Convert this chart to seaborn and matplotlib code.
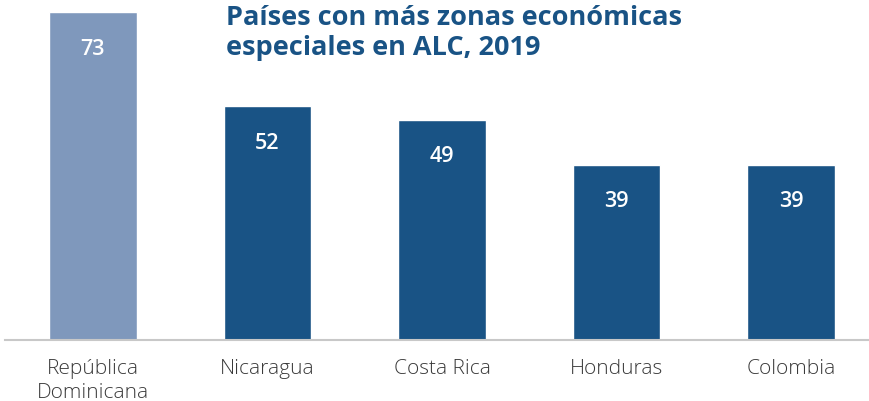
import matplotlib
matplotlib.use("Agg")
import matplotlib.pyplot as plt
import seaborn as sns
import pandas as pd

countries = ["República\nDominicana", "Nicaragua", "Costa Rica", "Honduras", "Colombia"]
values = [73, 52, 49, 39, 39]
colors = ["#7f98bc", "#195385", "#195385", "#195385", "#195385"]
title = "Países con más zonas económicas\nespeciales en ALC, 2019"

sns.set_theme(style="white")
plt.rcParams['font.family'] = ['Open Sans', 'DejaVu Sans']

df = pd.DataFrame({"country": countries, "value": values})

fig = plt.figure(figsize=(8.69, 4.02), dpi=100)
ax = fig.add_axes([5/869, 1 - 341/402, 864/869, 328/402])
sns.barplot(data=df, x="country", y="value", hue="country", palette=colors,
            legend=False, width=0.5, ax=ax, saturation=1)
ax.set_xlim(-0.504, 4.447)
ax.set_ylim(0, 73)
ax.set_xlabel("")
ax.set_ylabel("")
ax.set_yticks([])
for s in ["top", "right", "left"]:
    ax.spines[s].set_visible(False)
ax.spines["bottom"].set_color("#c8c8c8")
ax.spines["bottom"].set_linewidth(1.5)
ax.tick_params(axis="x", length=0, pad=13, labelsize=15, labelcolor="#3a3a3a")
for lbl in ax.get_xticklabels():
    lbl.set_fontweight("light")
    lbl.set_linespacing(1.25)

for i, v in enumerate(values):
    ax.annotate(str(v), (i, v), xytext=(0, -26), textcoords="offset points",
                ha="center", va="center", color="white", fontsize=15.5, fontweight="semibold")

fig.text(226/869, 1 - 5/402, title, ha="left", va="top", fontsize=19.5,
         fontweight="bold", color="#195385", linespacing=1.2)

fig.savefig("out.png", dpi=100)
